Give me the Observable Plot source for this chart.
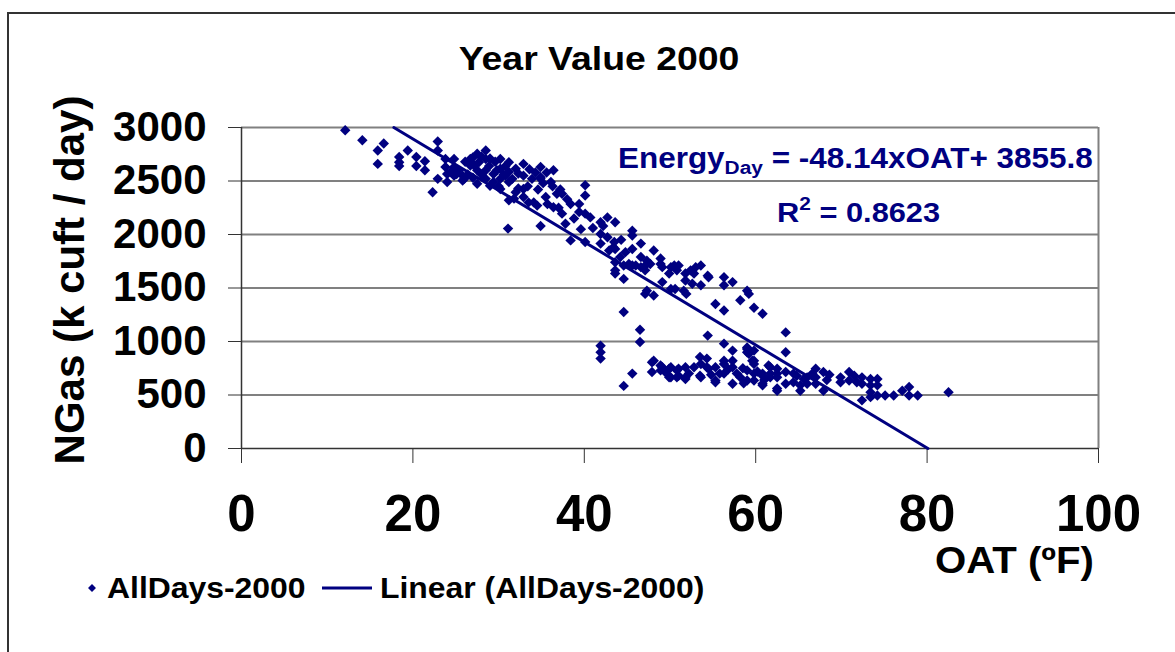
<!DOCTYPE html>
<html>
<head>
<meta charset="utf-8">
<script src="https://cdn.jsdelivr.net/npm/d3@7"></script>
<script src="https://cdn.jsdelivr.net/npm/@observablehq/plot@0.6"></script>
<style>
  body { margin: 0; background: #fff; }
  #wrap { position: relative; width: 1175px; height: 652px; overflow: hidden; background: #fff; }
  #frame { position: absolute; left: 7px; top: 12px; width: 1300px; height: 800px; border: 2px solid #333; box-sizing: border-box; }
  #chart { position: absolute; left: 0; top: 0; }
  #overlay { position: absolute; left: 0; top: 0; pointer-events: none; font-family: "Liberation Sans", Arial, sans-serif; font-weight: bold; white-space: pre; }
</style>
</head>
<body>
<div id="wrap">
  <div id="frame"></div>
  <div id="chart"></div>
  <svg id="overlay" width="1175" height="652"></svg>
</div>
<script>
// ---- data ----
const titleText = "Year Value 2000";
const seriesName = "AllDays-2000";
const xLabel = "OAT (ºF)";
const yLabel = "NGas (k cuft / day)";
const xTicks = [0, 20, 40, 60, 80, 100];
const yTicks = [0, 500, 1000, 1500, 2000, 2500, 3000];
const fitSlope = -48.14;
const fitIntercept = 3855.8;
const fitR2 = 0.8623;

// [OAT (ºF), NGas (k cuft/day)]
const allDays2000 = [
  [12.1,2975],[14.1,2880],[15.9,2785],[16.6,2850],[15.9,2660],[18.4,2725],[18.4,2675],[18.4,2640],
  [19.4,2785],[20.4,2725],[20.4,2640],[21.4,2685],[21.4,2600],[22.3,2395],[22.9,2870],[22.9,2785],[22.9,2520],
  [23.8,2705],[24.8,2705],[23.8,2630],[24.8,2630],[24.0,2565],[24.0,2490],[24.8,2550],[25.8,2550],
  [25.8,2505],[26.7,2705],[26.7,2645],[27.5,2755],[27.7,2675],[28.5,2785],[28.5,2705],[27.5,2600],
  [27.5,2475],[28.5,2600],[28.5,2520],[29.4,2565],[29.4,2490],[30.2,2705],[30.2,2615],[30.2,2520],
  [30.2,2425],[31.2,2675],[31.2,2585],[31.2,2490],[32.0,2615],[32.9,2660],[32.9,2550],[32.0,2395],
  [31.2,2320],[32.9,2425],[32.9,2350],[31.1,2055],
  [25.3,2600],[26.1,2680],[26.4,2560],[27.0,2530],[27.1,2650],[28.0,2560],[28.9,2640],[29.0,2710],
  [29.8,2600],[30.6,2560],[31.6,2520],[29.0,2455],[30.0,2450],[27.0,2720],[28.0,2730],[25.1,2565],
  [26.0,2520],[24.4,2585],[29.6,2680],[30.8,2640],[33.6,2610],
  [30.8,2550],[32.3,2570],[34.3,2580],[35.6,2580],[34.9,2520],[32.3,2430],[33.4,2450],[34.6,2420],
  [35.2,2480],[36.3,2450],[36.8,2380],[37.2,2420],[31.8,2335],[34.1,2300],[34.5,2270],[35.7,2285],
  [37.4,2380],[36.4,2255],[37.4,2195],[38.4,2285],[39.4,2285],[39.4,2210],[40.1,2460],[40.1,2365],
  [40.1,2195],[40.7,2160],[41.9,2115],[42.7,2160],[43.6,2115],[34.9,2080],[38.4,1945],[40.1,1930],
  [41.9,2005],[42.7,1975],[43.5,1930],[43.6,1865],[42.9,1850],[41.9,1915],[45.6,2035],[45.6,1990],
  [46.6,1915],[45.6,1865],[44.8,1835],[44.2,1790],[46.6,1790],[47.3,1725],[48.1,1850],[48.9,1775],
  [49.1,1695],[47.3,1755],[46.0,1710],[45.2,1725],[43.6,1635],[44.6,1585],[50.5,1710],[50.8,1665],
  [49.9,1635],[51.8,1635],[52.4,1665],[53.0,1695],[47.3,1475],[48.1,1430],[50.6,1490],[51.6,1475],
  [52.6,1540],
  [33.9,2520],[34.9,2630],[36.4,2600],[34.9,2535],[36.1,2490],[38.0,2330],[38.8,2150],[42.2,2080],
  [43.4,1880],[44.3,1950],[37.0,2250],[37.8,2100],[39.6,2050],[41.0,2060],[35.5,2350],[33.5,2300],
  [47.1,1445],[49.1,1555],[50.1,1490],[51.8,1570],[51.9,1445],[52.8,1635],[53.6,1710],[53.6,1525],
  [54.5,1600],[51.0,1710],[56.3,1600],[56.3,1525],[57.3,1555],[55.3,1350],[56.3,1290],[58.2,1385],
  [59.0,1475],[59.2,1445],[59.8,1315],[60.8,1260],[44.6,1275],[46.5,1110],[46.5,995],[41.9,960],
  [41.9,900],[41.9,840],[54.4,1055],[56.3,980],[57.3,915],[59.0,930],[59.2,885],[59.6,820],
  [45.6,700],[44.6,585],
  [43.6,1740],[44.6,1710],[45.6,1710],[46.6,1695],[47.7,1725],[48.9,1725],[50.1,1695],[54.4,1615],
  [47.1,1665],[43.6,1665],
  [48.1,820],[47.9,715],[49.1,760],[50.1,760],[50.1,665],[51.0,745],[51.0,680],[51.8,760],
  [51.8,665],[52.8,760],[53.5,855],[53.5,680],[54.3,840],[54.3,760],[55.3,760],[55.3,620],
  [56.3,820],[56.3,700],[57.3,820],[57.3,760],[57.3,605],[58.2,665],[59.0,730],[59.8,700],
  [59.8,635],[59.0,635],[60.8,700],[60.8,590],[61.7,760],[61.7,665],[62.5,700],[62.5,560],
  [47.9,805],[48.9,775],[48.9,730],[49.9,745],[49.9,665],[50.8,730],[50.8,665],[51.8,650],
  [53.6,790],[53.6,665],[54.5,745],[55.3,635],[56.3,790],[57.8,700],[58.6,610],[59.0,945],
  [59.0,900],[59.8,915],[59.8,820],[59.8,790],[60.8,605],[60.8,680],[62.5,540],
  [63.5,1085],[63.5,900],[61.5,775],[61.7,700],[62.5,745],[62.5,665],[63.5,715],[63.5,605],
  [64.4,700],[64.4,620],[65.2,590],[65.2,540],[66.0,665],[66.0,605],[67.0,745],[67.0,665],
  [67.0,605],[67.9,715],[67.9,540],[69.9,665],[69.9,620],[70.9,715],[70.9,635],[72.4,665],
  [72.4,605],[73.4,650],[73.4,590],[74.2,650],[74.2,590],[73.4,525],[72.4,450],[73.4,480],
  [74.2,495],[75.1,495],[76.1,495],[77.1,540],[77.9,575],[77.9,495],[78.9,495],[82.5,525],
  [64.8,680],[65.6,650],[66.6,700],[68.3,640],[68.6,690],[71.5,680],[71.8,620],[60.2,720],
  [61.0,640],[58.5,750],[56.8,740],[55.8,700],[54.8,690],[52.2,700],[49.5,710]
];

const points = allDays2000.map(([oat, gas]) => ({oat, gas}));
// trend line from the fitted equation, clipped to the y range
const yMax = yTicks[yTicks.length - 1];
const fitLine = [
  {oat: (yMax - fitIntercept) / fitSlope, gas: yMax},
  {oat: (0 - fitIntercept) / fitSlope, gas: 0}
];

const NAVY = "#000080";
const FONT = "Liberation Sans, Arial, sans-serif";
const S = 1.1; // horizontal stretch of the original picture's text

const svg = Plot.plot({
  width: 1175,
  height: 652,
  marginLeft: 241,
  marginRight: 77,
  marginTop: 127,
  marginBottom: 204,
  style: {fontFamily: FONT, fontWeight: "bold", background: "transparent", overflow: "visible"},
  x: {domain: [0, 100]},
  y: {domain: [0, 3000]},
  marks: [
    Plot.ruleY(yTicks.filter(d => d > 0), {stroke: "#808080", strokeWidth: 2}),
    Plot.ruleX([100], {stroke: "#808080", strokeWidth: 2}),
    Plot.axisY({ticks: yTicks, tickSize: 13, tickPadding: 22, fontSize: 42, fontWeight: "bold",
      stroke: "#333", fill: "#000", label: null, tickFormat: d => String(d)}),
    Plot.axisX({ticks: xTicks, tickSize: 15, tickPadding: 31, fontSize: 51, fontWeight: "bold",
      stroke: "#333", fill: "#000", label: null, tickFormat: d => String(d)}),
    Plot.ruleX([0], {stroke: "#333", strokeWidth: 1.5}),
    Plot.ruleY([0], {stroke: "#333", strokeWidth: 1.5}),
    Plot.dot(points, {x: "oat", y: "gas", symbol: "diamond2", r: 4.7, fill: NAVY, stroke: "none"}),
    Plot.line(fitLine, {x: "oat", y: "gas", stroke: NAVY, strokeWidth: 3})
  ]
});
document.getElementById("chart").appendChild(svg);

// ---- annotations ----
const ov = d3.select("#overlay");
function htext(x, y, anchor, size, color) {
  return ov.append("text")
    .attr("transform", `translate(${x},${y}) scale(${S},1)`)
    .attr("text-anchor", anchor)
    .attr("font-size", size)
    .attr("fill", color);
}
htext(599, 70, "middle", 34, "#000").text(titleText);

const eq = htext(618, 168, "start", 28.6, NAVY);
eq.append("tspan").text("Energy");
eq.append("tspan").attr("font-size", 19).attr("dy", 6).text("Day");
eq.append("tspan").attr("dy", -6).text(` = ${fitSlope}xOAT+ ${fitIntercept}`);

const r2 = htext(777, 222, "start", 28, NAVY);
r2.append("tspan").text("R");
r2.append("tspan").attr("font-size", 19).attr("dy", -12).text("2");
r2.append("tspan").attr("dy", 12).text(` = ${fitR2}`);

ov.append("text")
  .attr("transform", "translate(84,280) rotate(-90)")
  .attr("text-anchor", "middle")
  .attr("font-size", 42)
  .attr("fill", "#000")
  .text(yLabel);

htext(935, 573, "start", 36.5, "#000").text(xLabel);

// legend
ov.append("path")
  .attr("transform", "translate(92,588)")
  .attr("d", d3.symbol(d3.symbolDiamond2, 40)())
  .attr("fill", NAVY);
htext(107, 598, "start", 29, "#000").text(seriesName);
ov.append("line").attr("x1", 322).attr("x2", 372).attr("y1", 588).attr("y2", 588)
  .attr("stroke", NAVY).attr("stroke-width", 3);
htext(380, 598, "start", 29, "#000").text(`Linear (${seriesName})`);
</script>
</body>
</html>
